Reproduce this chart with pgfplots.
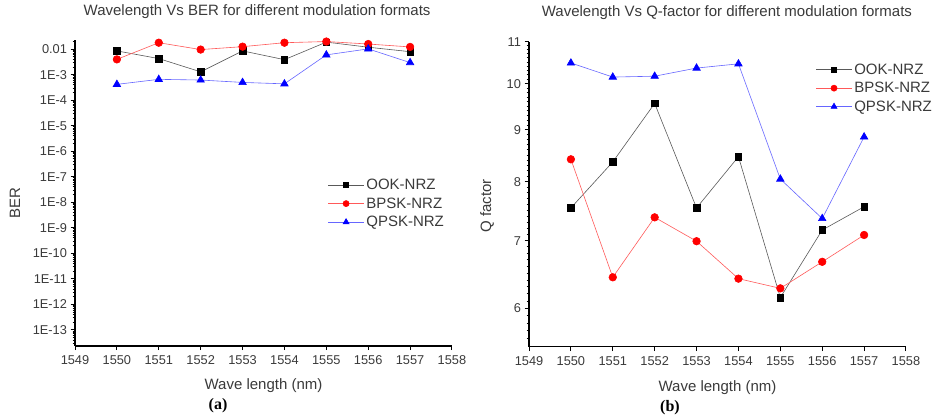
\documentclass[border=0pt]{standalone}
\usepackage{pgfplots}
\pgfplotsset{compat=1.18}
\usepackage{fontspec}
\setmainfont{Liberation Sans}
\newfontfamily\serifb{Liberation Serif}
\definecolor{txt}{HTML}{3A3A3A}

\newcommand\legfont{\fontsize{15}{18}\selectfont}
\newcommand\tickfont{\fontsize{12.8}{15}\selectfont}

\pgfplotsset{
  every axis legend/.append style={draw=none, fill=none, font=\legfont, text=txt,
      row sep=2.5pt, inner sep=0pt, nodes={font=\legfont, text=txt, inner sep=2pt}, anchor=north west},
  legend image code/.code={\draw[mark repeat=2,mark phase=2,#1,every mark/.append style={scale=0.8}] plot coordinates {(0pt,0pt)(18pt,0pt)(36pt,0pt)};},
  mystyle/.style={
    scale only axis, width=377pt,
    axis x line*=bottom, axis y line*=left,
    axis line style={-, line width=1.6pt, black},
    tick align=outside,
    major tick length=4.5pt, minor tick length=2.5pt,
    every tick/.style={black, line width=1pt},
    xmin=1549, xmax=1558, xtick={1549,...,1558}, minor x tick num=1,
    /pgf/number format/assume math mode=true,
    /pgf/number format/1000 sep={},
    tick label style={font=\tickfont, text=txt},
    xticklabel shift=2pt,
    label style={font=\legfont, text=txt},
    title style={font=\legfont, text=txt},
    legend cell align=left,
    clip=false,
  },
  ook/.style={color=black!65, line width=0.6pt, mark=square*, mark size=3.3pt, mark options={fill=black, draw=black}},
  bpsk/.style={color=red!65, line width=0.6pt, mark=*, mark size=3.8pt, mark options={fill=red, draw=red}},
  qpsk/.style={color=blue!60, line width=0.6pt, mark=triangle*, mark size=4.3pt, mark options={fill=blue, draw=blue}},
}

\def\minorlist{1e-15}
\foreach \e in {-14,...,-2}{\foreach \k in {2,...,9}{\xdef\minorlist{\minorlist,\k e\e}}}

\begin{document}
\begin{tikzpicture}
\path (0pt,0pt) rectangle (937pt,415pt);

% ---------------- (a) BER ----------------
\begin{axis}[mystyle,
  at={(75pt,69.3pt)}, anchor=south west, height=305.7pt,
  ymode=log, ymin=2.4e-14, ymax=0.023,
  ytick={1e-13,1e-12,1e-11,1e-10,1e-9,1e-8,1e-7,1e-6,1e-5,1e-4,1e-3,1e-2},
  yticklabels={1E-13,1E-12,1E-11,1E-10,1E-9,1E-8,1E-7,1E-6,1E-5,1E-4,1E-3,0.01},
  minor ytick/.expanded={\minorlist},
  title={Wavelength Vs BER for different modulation formats},
  title style={at={(axis description cs:0.483,1)}, anchor=base, yshift=18pt},
  xlabel={Wave length (nm)},
  xlabel style={at={(axis description cs:0.5,0)}, anchor=base, yshift=-44pt},
  ylabel={BER},
  ylabel style={at={(axis description cs:-0.159,0.467)}, anchor=center},
  legend style={at={(axis description cs:0.67,0.552)}},
]
\addplot[ook] coordinates {(1550,0.0086) (1551,0.0043) (1552,0.0013) (1553,0.0086) (1554,0.0039) (1555,0.019) (1556,0.012) (1557,0.008)};
\addplot[bpsk] coordinates {(1550,0.0040) (1551,0.018) (1552,0.0097) (1553,0.0126) (1554,0.018) (1555,0.020) (1556,0.016) (1557,0.0123)};
\addplot[qpsk] coordinates {(1550,4.2e-4) (1551,6.6e-4) (1552,6.2e-4) (1553,5.0e-4) (1554,4.4e-4) (1555,0.006) (1556,0.0103) (1557,0.0030)};
\legend{OOK-NRZ,BPSK-NRZ,QPSK-NRZ}
\end{axis}

% ---------------- (b) Q factor ----------------
\begin{axis}[mystyle,
  at={(529pt,68.3pt)}, anchor=south west, height=305pt,
  ymode=log, ymin=5.5, ymax=11,
  ytick={6,7,8,9,10,11},
  yticklabels={6,7,8,9,10,11},
  minor ytick={5.6,5.7,5.8,5.9,6.1,6.2,6.3,6.4,6.5,6.6,6.7,6.8,6.9,7.1,7.2,7.3,7.4,7.5,7.6,7.7,7.8,7.9,8.1,8.2,8.3,8.4,8.5,8.6,8.7,8.8,8.9,9.1,9.2,9.3,9.4,9.5,9.6,9.7,9.8,9.9,10.1,10.2,10.3,10.4,10.5,10.6,10.7,10.8,10.9},
  title={Wavelength Vs Q-factor for different modulation formats},
  title style={at={(axis description cs:0.525,1)}, anchor=base, yshift=19pt},
  xlabel={Wave length (nm)},
  xlabel style={at={(axis description cs:0.5,0)}, anchor=base, yshift=-45pt},
  ylabel={Q factor},
  ylabel style={at={(axis description cs:-0.111,0.461)}, anchor=center},
  legend style={at={(axis description cs:0.76,0.935)}},
]
\addplot[ook] coordinates {(1550,7.54) (1551,8.37) (1552,9.56) (1553,7.54) (1554,8.47) (1555,6.15) (1556,7.17) (1557,7.56)};
\addplot[bpsk] coordinates {(1550,8.42) (1551,6.44) (1552,7.38) (1553,6.99) (1554,6.42) (1555,6.28) (1556,6.67) (1557,7.09)};
\addplot[qpsk] coordinates {(1550,10.48) (1551,10.15) (1552,10.17) (1553,10.36) (1554,10.46) (1555,8.05) (1556,7.36) (1557,8.86)};
\legend{OOK-NRZ,BPSK-NRZ,QPSK-NRZ}
\end{axis}

\node[font=\serifb\bfseries\fontsize{16}{18}\selectfont, anchor=center] at (218pt,9pt) {(a)};
\node[font=\serifb\bfseries\fontsize{16}{18}\selectfont, anchor=center] at (670pt,7pt) {(b)};
\end{tikzpicture}
\end{document}
